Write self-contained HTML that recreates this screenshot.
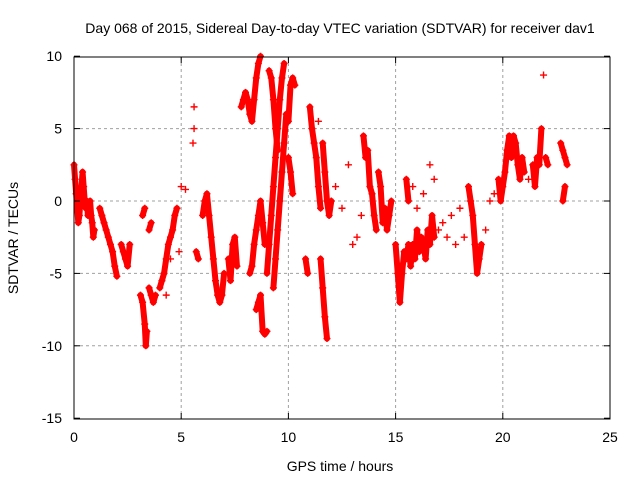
<!DOCTYPE html>
<html><head><meta charset="utf-8"><style>
body{margin:0;background:#fff}
svg text{font-family:"Liberation Sans",sans-serif;font-size:14px;fill:#000}
</style></head><body>
<svg id="c" width="640" height="480">
<text x="340" y="33" text-anchor="middle">Day 068 of 2015, Sidereal Day-to-day VTEC variation (SDTVAR) for receiver dav1</text>
<text x="340" y="471" text-anchor="middle">GPS time / hours</text>
<text transform="translate(18,238) rotate(-90)" text-anchor="middle">SDTVAR / TECUs</text>
<g id="grid"></g><g id="trk"></g><g id="pts"></g>
<rect x="74" y="57" width="536" height="362" fill="none" stroke="#000" stroke-width="1"/>
<g id="axes"></g>
</svg>
<script>
const xTicks=[0,5,10,15,20,25];
const yTicks=[10,5,0,-5,-10,-15];
const times=[0,0.05,0.1,0.15,0.2,0.25,0.3,0.35,0.4,0.45,0.5,0.55,0.6,0.65,0.7,0.75,0.8,0.85,0.9,0.95,
1.2,1.3,1.4,1.5,1.6,1.7,1.8,1.9,2.0,2.2,2.3,2.4,2.5,2.6,
3.1,3.2,3.3,3.35,3.4,3.5,3.6,3.7,3.8,3.2,3.3,3.5,3.6,
4.0,4.1,4.2,4.3,4.4,4.5,4.6,4.7,4.8,4.9,4.5,4.3,
5.0,5.2,5.6,5.6,5.55,5.7,5.8,
6.0,6.1,6.2,6.3,6.4,6.5,6.6,6.7,6.8,6.9,7.0,7.2,7.3,7.4,7.5,7.6,
7.8,7.9,8.0,8.1,8.2,8.3,8.4,8.5,8.6,8.7,
8.2,8.3,8.4,8.5,8.6,8.7,8.8,8.9,8.5,8.6,8.7,8.8,8.9,9.0,
9.0,9.1,9.2,9.3,9.4,9.5,9.6,9.7,9.8,9.3,9.4,9.5,9.6,9.7,9.8,9.9,10.0,10.1,10.2,10.3,9.1,9.2,9.3,9.4,9.5,10.0,10.1,10.2,
10.8,10.9,11.0,11.1,11.2,11.3,11.4,11.5,11.5,11.6,11.7,11.8,11.4,11.6,11.7,11.8,11.9,
12.0,12.2,12.5,12.8,13.0,13.2,13.4,13.5,13.6,13.7,13.8,13.9,14.0,14.1,14.2,14.3,14.4,14.5,14.6,14.7,14.8,
15.0,15.1,15.2,15.3,15.4,15.5,15.6,15.7,15.8,15.9,16.0,16.1,16.2,16.3,16.4,16.5,16.6,16.7,16.8,15.5,15.6,15.8,16.0,16.3,16.6,16.8,
17.0,17.2,17.4,17.6,17.8,18.0,18.2,18.4,18.5,18.6,18.7,18.8,18.9,19.0,19.2,19.4,19.6,19.8,19.9,
20.0,20.1,20.2,20.3,20.4,20.5,20.6,20.7,20.8,20.9,21.0,21.2,21.4,21.5,21.6,21.7,21.8,21.9,22.0,22.1,
22.7,22.8,22.9,23.0,22.8,22.9];
const values=[2.5,1.5,0.5,-0.5,-1.5,-1,0,1,2,1,0,-0.5,0,-1,-0.5,0,-1,-1.5,-2.5,-2,
-0.5,-1,-1.5,-2,-2.5,-3,-3.5,-4.5,-5.2,-3,-3.5,-4,-4.5,-3,
-6.5,-7,-8.5,-10,-9,-6,-6.5,-7,-6.5,-1,-0.5,-2,-1.5,
-6,-5.5,-5,-4,-3,-2.5,-2,-1,-0.5,-3.5,-4,-6.5,
1,0.8,6.5,5,4,-3.5,-4,
-1,0,0.5,-1,-2.5,-4,-5.5,-6.5,-7,-6.5,-5,-4,-5.5,-3,-2.5,-4.5,
6.5,7,7.5,7,6,5.5,7,8.5,9.5,10,
-5,-4.5,-3,-2,-1,0,-1.5,-3,-7.5,-7,-6.5,-9,-9.2,-9,
-5,-3,-1,1,3,5,7,8.5,9.5,-6,-4,-2,0,2,4,6,5.5,8,8.5,8,9,8.5,7,5,3.5,3,2,0.5,
-4,-5,6.5,5,4,3,1,-0.5,-4,-6,-8,-9.5,5.5,4,2,0,-1,
0,1,-0.5,2.5,-3,-2.5,-1,4.5,3,3.5,1,0.5,-1,-2,2,1,-1.5,-0.5,-2,-1,0,
-3,-5,-7,-5,-3.5,-4,-3,-4.5,-3,-4,-2,-3.5,-2.5,-3,-4,-2,-3,-1,-2.5,1.5,0,1,-0.5,0.5,2.5,1.5,
-2,-1.5,-2.5,-1,-3,-0.5,-2.5,1,0,-1,-3,-5,-4,-3,-2,0,0.5,1.5,0,
1,2,3.5,4.5,3,4.5,4,2.5,1.5,3,2,1.5,2.5,1,3,2.5,5,8.7,3,2.5,
4,3.5,3,2.5,0,1];
const X=t=>74+t*536/25, Y=v=>201-v*362/25;
const NS='http://www.w3.org/2000/svg';
const g=document.getElementById('grid'),ax=document.getElementById('axes'),P=document.getElementById('pts'),T=document.getElementById('trk');
function mk(p,tag,a){const e=document.createElementNS(NS,tag);for(const k in a)e.setAttribute(k,a[k]);p.appendChild(e);return e;}
xTicks.forEach(t=>{const x=X(t);
 if(t>0&&t<25){const l=mk(g,'line',{x1:x,y1:57,x2:x,y2:419,stroke:'#a0a0a0','stroke-dasharray':'3,3'});
 
 }
 mk(ax,'line',{x1:x,y1:419,x2:x,y2:413,stroke:'#000'});mk(ax,'line',{x1:x,y1:57,x2:x,y2:63,stroke:'#000'});
 const tx=mk(ax,'text',{x:x,y:442,'text-anchor':'middle'});tx.textContent=t;
 
 });
yTicks.forEach(v=>{const y=Y(v);
 if(v<10&&v>-15){const l=mk(g,'line',{x1:74,y1:y,x2:610,y2:y,stroke:'#a0a0a0','stroke-dasharray':'3,3'});
 
 }
 mk(ax,'line',{x1:74,y1:y,x2:80,y2:y,stroke:'#000'});mk(ax,'line',{x1:610,y1:y,x2:604,y2:y,stroke:'#000'});
 const tx=mk(ax,'text',{x:62,y:y+5,'text-anchor':'end'});tx.textContent=v;
 
 });
for(let i=1;i<times.length;i++){const dt=times[i]-times[i-1];
 if(dt>0&&dt<=0.16&&Math.abs(values[i]-values[i-1])<=2.6){
  const l=mk(T,'line',{x1:X(times[i-1]),y1:Y(values[i-1]),x2:X(times[i]),y2:Y(values[i]),stroke:'#f00','stroke-width':6,'stroke-linecap':'round'});
  
  }}
times.forEach((t,i)=>{const x=X(t),y=Y(values[i]);
 const p=mk(P,'path',{d:`M${x-3.5},${y}h7M${x},${y-3.5}v7`,stroke:'#f00','stroke-width':1.4});
 
 });
</script>
</body></html>
